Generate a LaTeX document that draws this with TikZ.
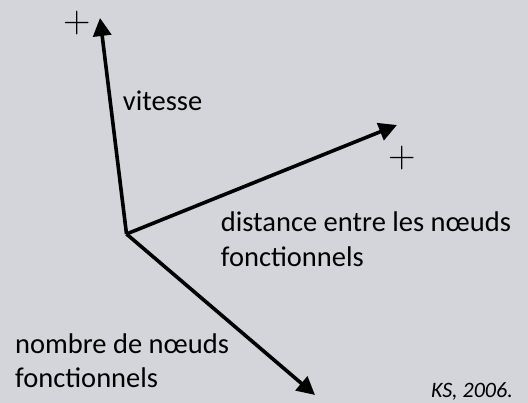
\documentclass[tikz,border=0pt]{standalone}
\usepackage{fontspec}
\setmainfont{Carlito}
\newfontfamily\lmplus{Latin Modern Roman}
\usetikzlibrary{arrows.meta}
\definecolor{bgcol}{RGB}{212,213,218}
\begin{document}
\begin{tikzpicture}[x=1pt,y=-1pt,
  axis/.style={line width=3.6pt, -{Triangle[length=18pt,width=18pt]}, line join=miter},
  lbl/.style={inner sep=0pt, anchor=base west, align=left, font=\fontsize{28.5}{35}\selectfont},
  plus/.style={inner sep=0pt, font=\lmplus\fontsize{38}{40}\selectfont},
  credit/.style={inner sep=0pt, anchor=base east, font=\fontsize{22}{26}\selectfont\itshape}]
\fill[bgcol] (0,0) rectangle (528,403);
\useasboundingbox (0,0) rectangle (528,403);
\coordinate (o) at (126.5,234);
\coordinate (tv) at (100,18);
\coordinate (td) at (397,125);
\coordinate (tn) at (315,395);
\draw[axis] (o) -- (tv);
\draw[axis] (o) -- (td);
\draw[axis] (o) -- (tn);
\node[plus] (p1) at (77.5,22.7) {+};
\node[plus] (p2) at (401.7,157.7) {+};
\node[lbl] (v) at (122.7,110.7) {vitesse};
\node[lbl] (d) at (220.7,266.7) {distance entre les nœuds\\fonctionnels};
\node[lbl, font=\fontsize{28.5}{34}\selectfont] (n) at (15,388) {nombre de nœuds\\fonctionnels};
\node[credit] (ks) at (513,398) {KS, 2006.};
\end{tikzpicture}
\end{document}
